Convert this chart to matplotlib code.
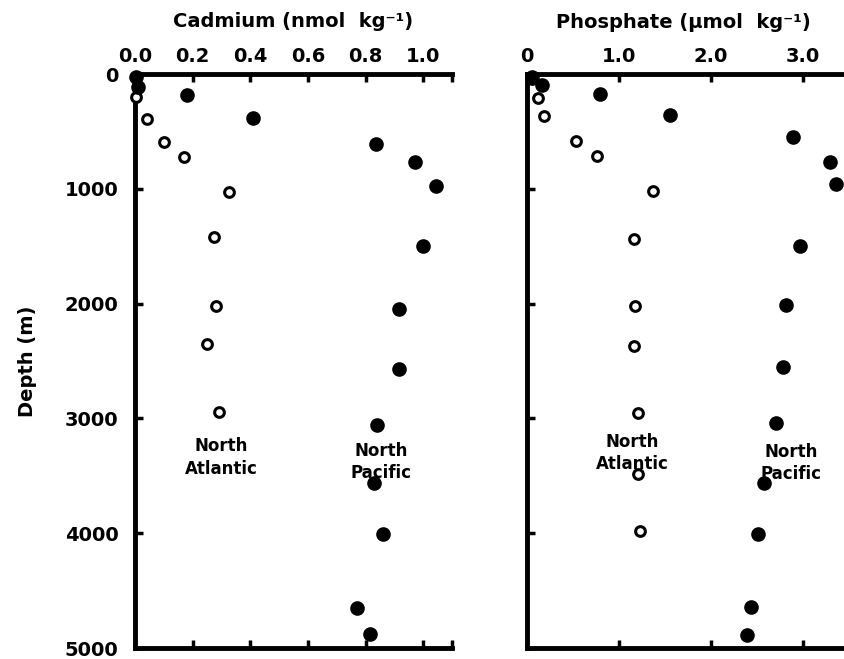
import numpy as np
import matplotlib
matplotlib.use("Agg")
from matplotlib import pyplot as plt

plt.rcParams['font.family'] = ['DejaVu Sans']
plt.rcParams['font.weight'] = 'bold'
plt.rcParams['axes.labelweight'] = 'bold'

# Cadmium (nmol/kg) vs depth (m)
cd_atl_x = [0.005, 0.04, 0.10, 0.17, 0.325, 0.275, 0.28, 0.25, 0.29]
cd_atl_z = [200, 390, 590, 725, 1025, 1420, 2020, 2350, 2940]
cd_pac_x = [0.005, 0.01, 0.18, 0.41, 0.835, 0.97, 1.045, 1.0, 0.915, 0.915,
            0.84, 0.83, 0.86, 0.77, 0.815]
cd_pac_z = [30, 110, 180, 380, 610, 765, 975, 1500, 2045, 2570,
            3060, 3560, 4010, 4650, 4880]

# Phosphate (umol/kg) vs depth (m)
po4_atl_x = [0.05, 0.12, 0.18, 0.53, 0.76, 1.37, 1.16, 1.17, 1.16, 1.21, 1.21, 1.23]
po4_atl_z = [40, 210, 370, 580, 715, 1015, 1440, 2025, 2370, 2955, 3480, 3985]
po4_pac_x = [0.05, 0.16, 0.79, 1.55, 2.89, 3.29, 3.36, 2.97, 2.81, 2.78,
             2.71, 2.58, 2.51, 2.43, 2.39]
po4_pac_z = [30, 95, 175, 360, 550, 765, 955, 1500, 2015, 2550,
             3040, 3560, 4005, 4645, 4885]

depth_ticks = [0, 1000, 2000, 3000, 4000, 5000]
cd_ticks = [0.0, 0.2, 0.4, 0.6, 0.8, 1.0]
po4_ticks = [0, 1.0, 2.0, 3.0]
po4_labels = ['0', '1.0', '2.0', '3.0']

fig = plt.figure(figsize=(8.45, 6.59), dpi=100)
ax1 = fig.add_axes([135/845, 11/659, 317/845, 574/659])
ax2 = fig.add_axes([527/845, 11/659, 3.6*92/845, 574/659])


def style(ax):
  for s in ['top', 'left', 'bottom']:
    ax.spines[s].set_linewidth(3.5)
  ax.spines['right'].set_visible(False)
  ax.set_ylim(5000, 0)
  ax.tick_params(direction='in', length=6, width=2.5, labelsize=14,
                 top=True, bottom=True, labeltop=True, labelbottom=False, pad=6)
  ax.tick_params(axis='y', pad=12)


def plot_profile(ax, ax_x, az, px, pz):
  ax.plot(ax_x, az, 'o', mfc='white', mec='black', ms=7, mew=2.2, clip_on=False, zorder=3)
  ax.plot(px, pz, 'o', color='black', ms=9.5, clip_on=False, zorder=3)


style(ax1)
plot_profile(ax1, cd_atl_x, cd_atl_z, cd_pac_x, cd_pac_z)
ax1.set_xlim(0, 1.1)
ax1.set_xticks(cd_ticks + [1.1])
ax1.set_xticklabels([f'{t:.1f}' for t in cd_ticks] + [''])
ax1.set_yticks(depth_ticks)
ax1.set_yticklabels([str(d) for d in depth_ticks])
ax1.set_ylabel('Depth (m)', fontsize=14, labelpad=20)
ax1.xaxis.set_label_position('top')
ax1.set_xlabel('Cadmium (nmol  kg⁻¹)', fontsize=14, labelpad=14)
ax1.text(0.30, 3340, 'North\nAtlantic', ha='center', va='center', fontsize=12, linespacing=1.3)
ax1.text(0.855, 3380, 'North\nPacific', ha='center', va='center', fontsize=12, linespacing=1.3)

style(ax2)
plot_profile(ax2, po4_atl_x, po4_atl_z, po4_pac_x, po4_pac_z)
ax2.set_xlim(0, 3.6)
ax2.set_xticks(po4_ticks)
ax2.set_xticklabels(po4_labels)
ax2.set_yticks(depth_ticks)
ax2.set_yticklabels([])
ax2.text(1.14, 3300, 'North\nAtlantic', ha='center', va='center', fontsize=12, linespacing=1.3)
ax2.text(2.87, 3390, 'North\nPacific', ha='center', va='center', fontsize=12, linespacing=1.3)
fig.text(683/845, 1 - 22/659, 'Phosphate (μmol  kg⁻¹)', ha='center', va='center', fontsize=14)

fig.savefig('out.png', dpi=100)
